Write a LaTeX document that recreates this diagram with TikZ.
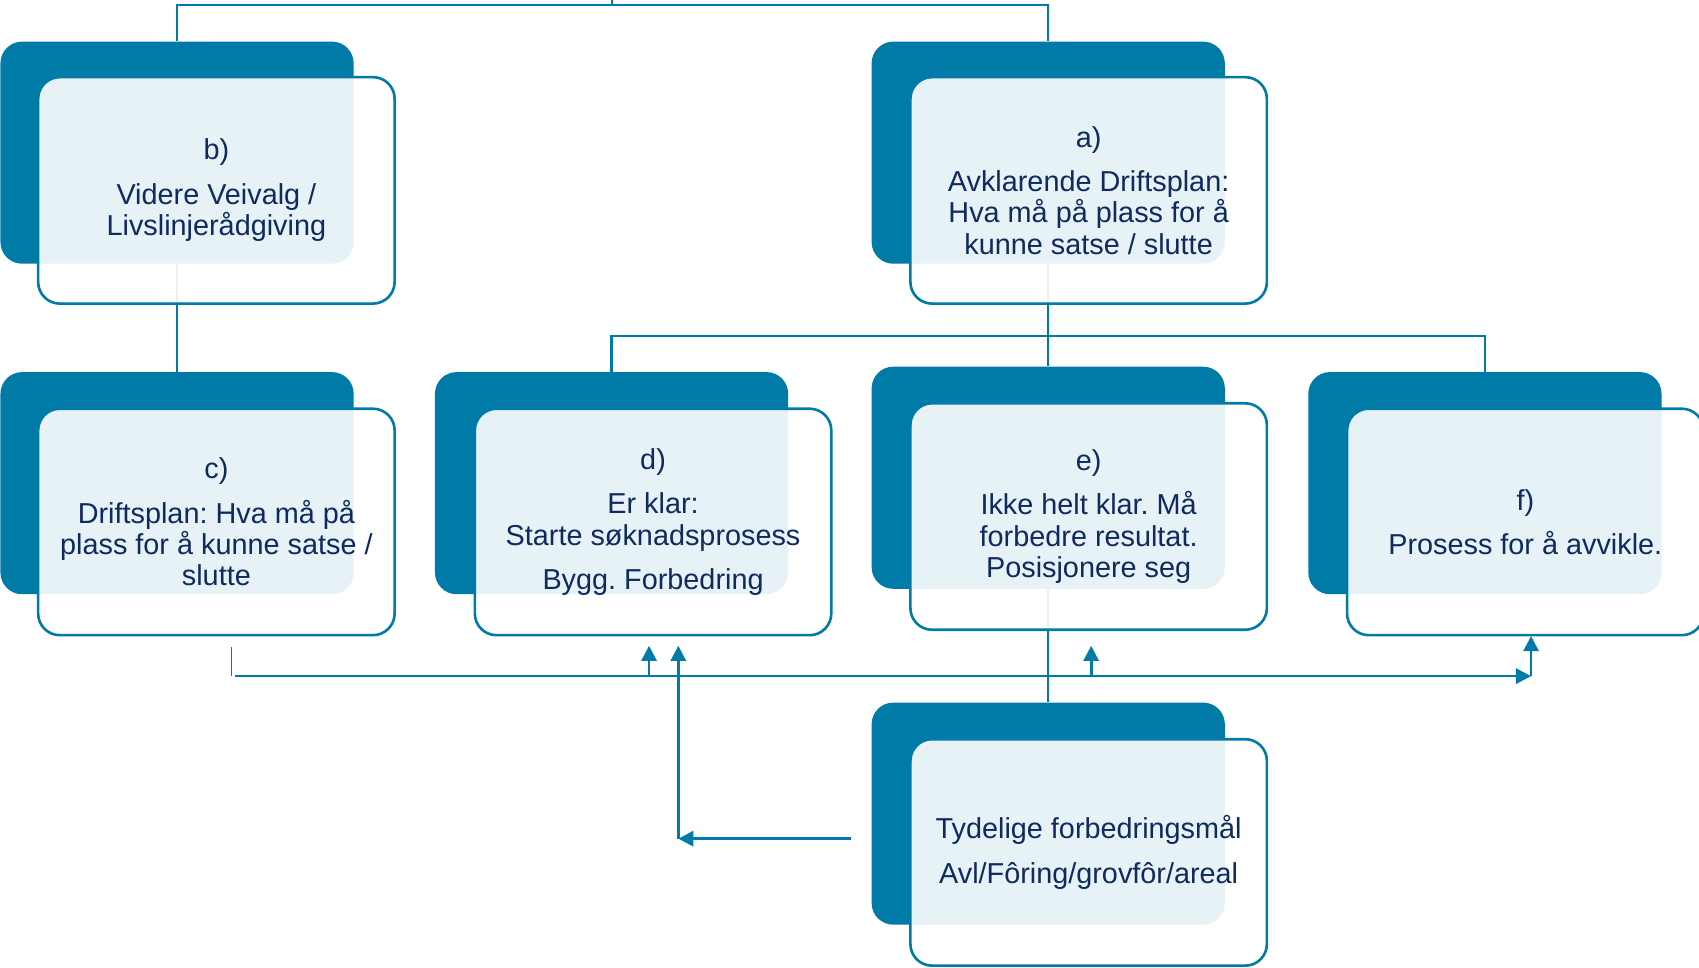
\documentclass[tikz,border=0pt]{standalone}
\usepackage{fontspec}
\setmainfont{Liberation Sans}
\usetikzlibrary{arrows.meta}
\pgfdeclarelayer{bg}
\pgfsetlayers{bg,main}
\definecolor{teal1}{HTML}{007BA7}
\definecolor{navy1}{HTML}{0E2A5E}
\tikzset{
  darkbox/.style={fill=teal1, rounded corners=10pt, minimum width=163pt, minimum height=102.5pt, inner sep=0pt, anchor=north west},
  frontbox/.style={draw=teal1, line width=1.2pt, fill=white, fill opacity=0.9, text opacity=1, rounded corners=10pt, minimum width=164.5pt, minimum height=104.5pt, inner sep=0pt, anchor=north west, text=navy1, align=center, font=\fontsize{13.3}{14.5}\selectfont\frenchspacing},
  conn/.style={draw=teal1, line width=1pt},
  arr/.style={draw=teal1, line width=1.25pt, -{Triangle[length=7pt, width=7pt]}},
}
\begin{document}
\begin{tikzpicture}[x=0.5pt, y=-0.5pt]
\useasboundingbox (0,0) rectangle (1568,893);
% dark boxes
\node[darkbox] (bd) at (0,38) {};
\node[darkbox] (ad) at (804,38) {};
\node[darkbox] (cd) at (0,343) {};
\node[darkbox] (dd) at (401,343) {};
\node[darkbox] (ed) at (804,338) {};
\node[darkbox] (fd) at (1207,343) {};
\node[darkbox] (gd) at (804,648) {};
% front boxes
\node[frontbox] (b) at (34,70) {b)\\[6pt]Videre Veivalg /\\Livslinjerådgiving};
\node[frontbox] (a) at (839,70) {a)\\[6pt]Avklarende Driftsplan:\\Hva må på plass for å\\kunne satse / slutte};
\node[frontbox] (c) at (34,376) {c)\\[6pt]Driftsplan: Hva må på\\plass for å kunne satse /\\slutte};
\node[frontbox] (d) at (437,376) {d)\\[6pt]Er klar:\\Starte søknadsprosess\\[6pt]Bygg. Forbedring};
\node[frontbox] (e) at (839,371) {e)\\[6pt]Ikke helt klar. Må\\forbedre resultat.\\Posisjonere seg};
\node[frontbox] (f) at (1242,376) {f)\\[6pt]Prosess for å avvikle.};
\node[frontbox] (g) at (839,681) {Tydelige forbedringsmål\\[6pt]Avl/Fôring/grovfôr/areal};
% coordinates
\coordinate (root) at (565,0);
\coordinate (topbar) at (565,5);
\coordinate (midbar) at (967.5,310);
\coordinate (tick1) at (214,597);
\coordinate (tick2) at (214,624);
\coordinate (lowstart) at (217,624);
\coordinate (lowend) at (1413,624);
\coordinate (darr) at (599,596);
\coordinate (dfoot) at (599,624);
\coordinate (d2arr) at (626,596);
\coordinate (corner) at (626,774);
\coordinate (gleft) at (785,774);
\coordinate (earr) at (1007,596);
\coordinate (efoot) at (1007,624);
\coordinate (farr) at (1413,587);
% connectors behind boxes
\begin{pgfonlayer}{bg}
\draw[conn] (root) -- (topbar);
\draw[conn] (bd.north) |- (topbar) -| (ad.north);
\draw[conn] (bd.south) -- (cd.north);
\draw[conn] (ad.south) -- (ed.north);
\draw[conn] (dd.north) |- (midbar) -| (fd.north);
\draw[conn] (ed.south) -- (gd.north);
\end{pgfonlayer}
% lower arrows
\draw[draw=teal1, line width=0.5pt] (tick1) -- (tick2);
\draw[arr] (lowstart) -- (lowend);
\draw[arr] (dfoot) -- (darr);
\draw[arr] (corner) -- (d2arr);
\draw[arr] (gleft) -- (corner);
\draw[arr] (efoot) -- (earr);
\draw[arr] (lowend) -- (farr);
\end{tikzpicture}
\end{document}
